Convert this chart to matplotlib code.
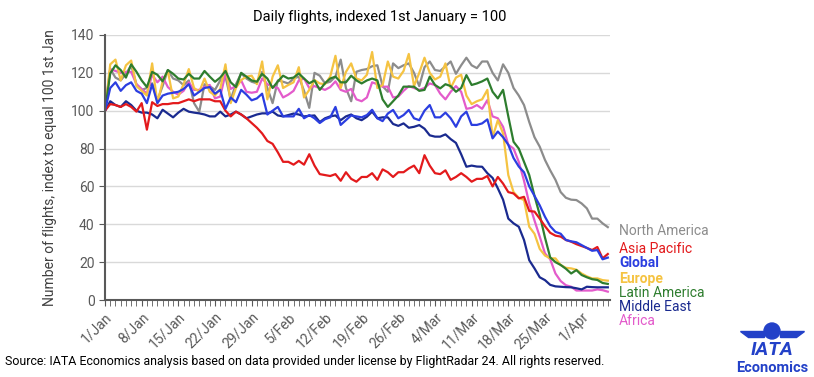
import pandas as pd
import matplotlib.pyplot as plt
from matplotlib.patches import Circle, Polygon

plt.rcParams['font.family'] = ['Roboto', 'DejaVu Sans']

dates = pd.date_range('2020-01-01', periods=97, freq='D')

north_america = [
    100, 122, 117.5, 116, 119.5, 124, 114, 111, 112, 114.5,
    105.5, 113, 121.5, 117, 116, 113.5, 116, 104, 99.5, 114,
    113, 111, 116, 118, 106, 114, 119.7, 117, 115.3, 114.5,
    120.5, 112, 104, 116, 115.3, 114.4, 117, 118, 110.5, 101.5,
    120, 118.5, 114.5, 115.3, 118, 127, 112, 105, 120.6, 121.5,
    122, 123.5, 124, 113, 110, 125, 122.5, 124, 125, 120,
    113, 123, 126, 121.5, 121, 123.5, 126, 119.5, 124, 128,
    124, 122.5, 126, 126, 120, 116, 124.5, 120, 112, 108,
    103, 94, 86, 81, 74, 68.5, 63.5, 57, 54, 53,
    52.8, 51, 48.4, 43, 43, 40.5, 38.5,
]
asia_pacific = [
    100, 103.5, 103, 102, 103.5, 102, 99.5, 104, 90, 104.5,
    102.5, 103.5, 103.5, 104, 104, 105, 106, 105, 106, 106,
    106, 105, 105, 100, 97, 99.5, 98, 96, 93.5, 91,
    88, 84, 82.5, 78, 73, 73, 71.5, 73.5, 71.5, 77,
    71, 66.5, 66, 65.5, 66.5, 63, 67.5, 64, 62.5, 65,
    65, 67, 63.5, 69, 67.5, 65, 67.5, 67.5, 69.5, 71,
    67, 76.5, 71, 67, 66.5, 68.5, 63.5, 65, 67, 65,
    62.5, 64, 64, 65.5, 60, 65, 61.5, 57, 56.3, 53.7,
    54.5, 47, 46.7, 43, 39, 35.5, 34, 33.5, 31.7, 30.8,
    29.5, 28.5, 27.5, 26.4, 28, 22, 24.3,
]
global_ = [
    100, 112, 115, 110.5, 113.5, 115, 110.5, 109, 104, 114,
    104, 108, 109, 109.5, 110, 111.5, 114, 108, 110, 112,
    112.5, 109, 111, 101, 107, 104.5, 111, 108.5, 105.5, 106.5,
    109, 98, 100, 102, 97, 97, 97, 101, 96, 97.7,
    96, 93.5, 95.5, 96.5, 102, 92.5, 95, 97.5, 97, 96.5,
    97.7, 100.5, 96, 94.5, 98.5, 100.4, 96, 97.7, 100.4, 96,
    95, 100, 103, 96.5, 96.5, 99, 96, 91.5, 97, 99.5,
    92.5, 92.5, 93.3, 95.4, 85.4, 89, 86, 82, 75, 70.5,
    67.5, 60, 55, 50, 44, 39, 36, 35, 31.7, 31,
    30.5, 29, 27.5, 26, 26.4, 21.5, 22.4,
]
europe = [
    100, 124.5, 127, 116, 124, 126.5, 113, 110.5, 108, 125,
    104, 115.5, 121, 106.5, 107.5, 114, 122, 112, 110, 117,
    110, 108, 111.5, 124.5, 104, 112, 116.2, 118, 118.5, 114,
    126, 106, 118, 124, 112, 113.6, 115, 123, 107, 111,
    116.2, 114.4, 114, 118, 129, 112, 120.5, 125, 117, 116,
    119, 131, 112, 113.5, 126, 118, 117, 121, 130, 113,
    120, 128, 120, 116.5, 118, 125, 112, 117.5, 119, 108,
    103.5, 105, 106, 111, 86, 95, 88, 66, 57, 54,
    52.8, 38.7, 35, 27, 23.5, 22, 22, 18.5, 17, 16.7,
    16, 14, 12.5, 11.4, 11.4, 10.5, 10.2,
]
latin_america = [
    100, 119.7, 124, 121.5, 117.5, 124.5, 120.6, 116, 112.5, 120.5,
    119, 115.5, 121.5, 119.5, 117, 116.5, 119.5, 117, 117, 121,
    118, 115.3, 117.5, 121, 115, 112.5, 120, 118, 116, 115.3,
    119.5, 117, 112, 115.5, 118.5, 117, 117.5, 119.7, 117, 114.5,
    116, 111, 114.5, 117, 118, 115, 115, 118.5, 116, 114.4,
    116, 117, 116, 106, 102, 105, 108, 112.7, 112.7, 112.7,
    110.5, 111, 118, 113.6, 111.8, 114, 113, 110, 112, 118.8,
    113.6, 114.4, 115.5, 117, 110, 106.5, 111, 97, 83.6, 80,
    73, 66, 55, 45, 33, 22.5, 20, 18.5, 16.5, 14,
    15.8, 13.2, 12, 11, 10.6, 9, 8.5,
]
middle_east = [
    100, 105, 103, 102, 105, 103, 100, 99, 99, 98,
    96, 100.5, 98.5, 96.5, 99, 101, 99.5, 99, 98.6, 98,
    97, 97, 99.5, 97, 98, 99.5, 98, 96, 97, 98,
    98.6, 98.6, 99.5, 97.5, 97, 97.7, 98.5, 98, 97, 97.3,
    97.5, 94, 96, 97, 97.5, 95, 97, 98, 96, 95,
    96.8, 99.5, 96, 96.5, 96.5, 93, 92, 93.3, 91, 91.5,
    92.4, 90.5, 87, 86.3, 86.3, 87.5, 85, 83, 77, 70.4,
    71, 70.5, 70.4, 67, 64.5, 59, 53, 43, 40.5, 38.7,
    31.7, 21, 16.7, 12, 10.5, 8, 7.2, 7, 6.8, 6.7,
    6.2, 5.6, 7, 6.8, 6.7, 6.7, 6.7,
]
africa = [
    100, 122, 121, 120, 120.5, 120.5, 114, 111.5, 109, 119,
    115, 118, 112.5, 110, 108.5, 110.5, 115, 111, 111, 112.5,
    113.6, 106.5, 107.5, 119.5, 111.5, 113, 116, 110, 109.5, 110,
    117, 114, 112.7, 112, 107, 108.5, 110.5, 116, 117, 112,
    113, 112, 111, 112.5, 115.5, 111, 110, 111.5, 106, 105,
    107, 115, 114, 112.7, 112.7, 107, 107.5, 110.5, 113, 112,
    111, 112, 114.4, 113.6, 109, 106, 110, 113, 110, 101,
    101.5, 103, 101, 105.6, 97, 96, 91.5, 82, 80, 73,
    63, 51, 42, 33.5, 24.6, 21.5, 14, 10, 7.8, 7,
    5, 5, 5, 5, 5.6, 5.2, 4.4,
]

series = [
    ('North America', north_america, '#8c8c8c', 'normal'),
    ('Africa', africa, '#e35bcb', 'normal'),
    ('Europe', europe, '#f5c342', 'bold'),
    ('Latin America', latin_america, '#2e7d2e', 'normal'),
    ('Middle East', middle_east, '#1a2a8f', 'normal'),
    ('Asia Pacific', asia_pacific, '#e31a1c', 'normal'),
    ('Global', global_, '#2b3ee0', 'bold'),
]
label_y = {'North America': 231, 'Asia Pacific': 249, 'Global': 263, 'Europe': 279,
           'Latin America': 293, 'Middle East': 307, 'Africa': 321}

fig = plt.figure(figsize=(8.14, 3.77), dpi=100)
ax = fig.add_axes([105 / 814, 1 - 300 / 377, 505 / 814, 265 / 377])

for name, vals, color, weight in series:
    ax.plot(dates, vals, color=color, linewidth=1.6)

ax.set_xlim(dates[0], dates[-1] + pd.Timedelta(hours=10))
ax.set_ylim(0, 140)
ax.set_yticks(range(0, 141, 20))
ax.yaxis.grid(True, color='#d9d9d9', linewidth=1)
ax.set_axisbelow(True)

major = dates[::7][:14]
ax.set_xticks(major)
ax.set_xticklabels([f"{d.day}/{d.strftime('%b')}" for d in major], rotation=45,
                   ha='right', rotation_mode='anchor', color='#595959', fontsize=10)
ax.set_xticks(dates, minor=True)
ax.tick_params(axis='x', which='both', length=4, color='#595959', pad=3)
ax.tick_params(axis='y', length=4, color='#595959', labelsize=10, labelcolor='#595959')

for s in ['top', 'right']:
    ax.spines[s].set_visible(False)
for s in ['left', 'bottom']:
    ax.spines[s].set_color('#595959')
    ax.spines[s].set_linewidth(1.5)

ax.set_ylabel('Number of flights, index to equal 100 1st Jan', fontsize=10, color='#404040', labelpad=10)

fig.text(0.467, 1 - 17 / 377, 'Daily flights, indexed 1st January = 100', ha='center', va='center', fontsize=10.5)

for name, vals, color, weight in series:
    fig.text(619 / 814, 1 - label_y[name] / 377, name, color=color, fontsize=10,
             fontweight=weight, ha='left', va='center')

fig.text(5 / 814, 1 - 361 / 377, 'Source: IATA Economics analysis based on data provided under license by FlightRadar 24. All rights reserved.',
         fontsize=8.95, ha='left', va='center')

# IATA logo
logo = '#2341c8'
lax = fig.add_axes([730 / 814, 0, 84 / 814, 60 / 377])
lax.set_xlim(0, 84)
lax.set_ylim(0, 60)
lax.axis('off')
lax.add_patch(Circle((42, 46), 8, color=logo))
lax.add_patch(Polygon([[10, 46], [34, 46], [34, 40], [18, 40]], color=logo))
lax.add_patch(Polygon([[74, 46], [50, 46], [50, 40], [66, 40]], color=logo))
lax.text(42, 27, 'IATA', color=logo, fontsize=14, fontweight='bold', style='italic', ha='center', va='center')
lax.text(42, 9, 'Economics', color=logo, fontsize=10.5, fontweight='bold', ha='center', va='center')

fig.savefig('out.png', dpi=100)
